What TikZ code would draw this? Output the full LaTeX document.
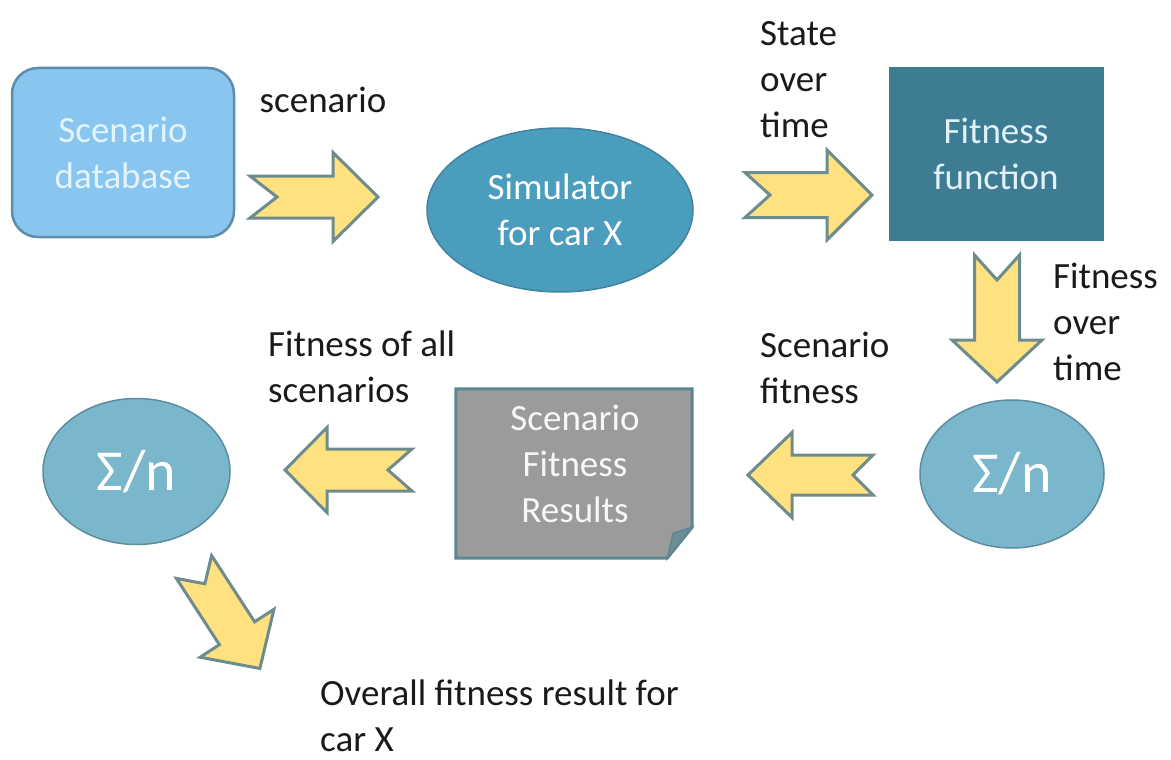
\documentclass[tikz,border=0pt]{standalone}
\usepackage{fontspec}
\setmainfont{Carlito}
\usetikzlibrary{shapes.geometric,calc}

\definecolor{dbfill}{HTML}{88C6F0}
\definecolor{dbdraw}{HTML}{5C8DAA}
\definecolor{dbtext}{HTML}{E4F3FB}
\definecolor{simfill}{HTML}{4A9DBD}
\definecolor{simdraw}{HTML}{41849F}
\definecolor{fitfill}{HTML}{3E7C93}
\definecolor{fittext}{HTML}{E0F2F7}
\definecolor{sigfill}{HTML}{7BB7CC}
\definecolor{sigdraw}{HTML}{5A8E9F}
\definecolor{sfrfill}{HTML}{9B9B9B}
\definecolor{sfrdraw}{HTML}{5C8790}
\definecolor{sfrfold}{HTML}{6C8E97}
\definecolor{arrfill}{HTML}{FFE17F}
\definecolor{arrdraw}{HTML}{6E8B8E}
\definecolor{labeltext}{HTML}{1A1A1A}

\tikzset{
  bodytext/.style={font=\fontsize{37}{46}\selectfont},
  sigmatext/.style={font=\fontsize{58}{60}\selectfont, text=white},
  caption/.style={bodytext, text=labeltext, align=left, anchor=west, inner sep=0pt},
  blockfill/.style={fill=arrfill, draw=arrdraw, line width=3pt, line join=miter},
  pics/blockarrow/.style n args={5}{code={
    \path[blockfill] (0,#3) -- (#1-#4,#3) -- (#1-#4,#2) -- (#1,0)
      -- (#1-#4,-#2) -- (#1-#4,-#3) -- (0,-#3) -- (#5,0) -- cycle;
  }},
}

\begin{document}
\begin{tikzpicture}[x=1pt, y=-1pt]
  \useasboundingbox[fill=white] (0,0) rectangle (1171,760);

  % scenario database
  \node (db) [draw=dbdraw, fill=dbfill, line width=2.5pt, rounded corners=26pt,
    minimum width=222pt, minimum height=169pt, bodytext, text=dbtext,
    align=center] at (123,152.5) {Scenario\\database};

  % simulator
  \node (sim) [ellipse, draw=simdraw, fill=simfill, line width=1.5pt,
    minimum width=266pt, minimum height=164pt, inner sep=0pt,
    bodytext, text=white, align=center] at (560,210) {Simulator\\for car X};

  % fitness function
  \node (fit) [fill=fitfill, minimum width=215pt, minimum height=173pt,
    bodytext, text=fittext, align=center] at (996,154) {Fitness\\function};

  % averaging over time
  \node (sumr) [ellipse, draw=sigdraw, fill=sigfill, line width=1.5pt,
    minimum width=184pt, minimum height=148pt, sigmatext] at (1012,474) {Σ/n};

  % result sheet with a folded corner
  \node (sfr) [minimum width=236pt, minimum height=169pt] at (574,473.5) {};
  \path[fill=sfrfill, draw=sfrdraw, line width=3pt, line join=miter]
    (sfr.north west) -- (sfr.north east) -- ($(sfr.south east)+(0,-31)$)
    -- ($(sfr.south east)+(-25,0)$) -- (sfr.south west) -- cycle;
  \path[fill=sfrfold, draw=sfrdraw, line width=1.5pt, line join=miter]
    ($(sfr.south east)+(0,-31)$) -- ($(sfr.south east)+(-25,0)$)
    -- ($(sfr.south east)+(-19,-25)$) -- cycle;
  \node (sfrtext) [bodytext, text=white!94!gray, align=center]
    at ($(sfr.center)+(1,-10)$) {Scenario\\Fitness\\Results};

  % averaging over scenarios
  \node (suml) [ellipse, draw=sigdraw, fill=sigfill, line width=1.5pt,
    minimum width=187pt, minimum height=146pt, sigmatext] at (136.5,471.5) {Σ/n};

  % block arrows
  \pic at (250,197) {blockarrow={128}{44.5}{21}{45}{27}};
  \pic at (745,195) {blockarrow={127}{45}{22.5}{45}{25}};
  \pic[rotate=-90] at (997,255) {blockarrow={127}{45}{22.5}{42}{25}};
  \pic[rotate=180] at (873,475) {blockarrow={125}{42.5}{20}{44}{20}};
  \pic[rotate=180] at (412,470) {blockarrow={127}{42.5}{21}{42}{24}};
  \pic[rotate=-57] at (194,567) {blockarrow={121}{44}{21}{42}{20}};

  % captions
  \node (lscen) [bodytext, text=labeltext] at (323,100) {scenario};
  \node (lstate) [caption] at (760,80) {State\\over\\time};
  \node (lfot) [caption] at (1053,322) {Fitness\\over\\time};
  \node (lsfit) [caption] at (760,368) {Scenario\\fitness};
  \node (lall) [caption] at (268,367) {Fitness of all\\scenarios};
  \node (lover) [caption] at (320,716) {Overall fitness result for\\car X};
\end{tikzpicture}
\end{document}
